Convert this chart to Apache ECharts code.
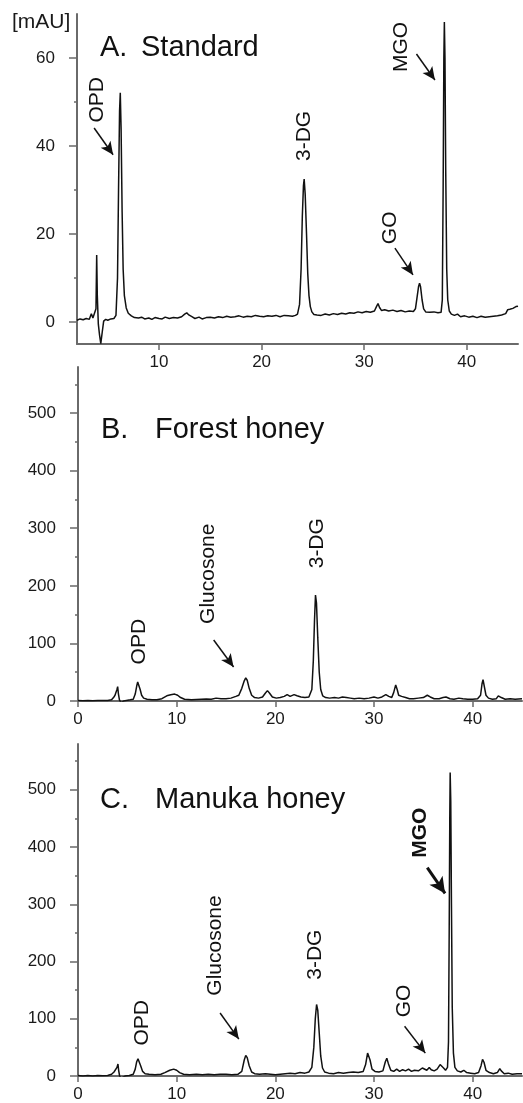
<!DOCTYPE html>
<html>
<head>
<meta charset="utf-8">
<script src="https://cdn.jsdelivr.net/npm/echarts@6/dist/echarts.min.js"></script>
<style>
html,body{margin:0;padding:0;background:#fff;}
#c{width:523px;height:1103px;}
</style>
</head>
<body>
<div id="c"></div>
<script>
// ---- data (retention time [min], absorbance [mAU]) ----
var standardTrace = [[2.0,0.4],[2.3,0.7],[2.6,0.5],[2.9,0.8],[3.2,0.6],[3.4,1.9],[3.55,0.9],[3.7,1.0],[3.85,3],[3.92,15.2],[3.98,6],[4.08,-0.5],[4.2,-3],[4.32,-4.9],[4.45,-2.5],[4.6,0.2],[4.8,0.6],[5.0,0.4],[5.3,0.7],[5.6,0.8],[5.8,1.5],[5.95,10],[6.05,30],[6.15,48],[6.22,52.1],[6.3,44],[6.4,25],[6.5,12],[6.62,6],[6.8,3.2],[7.0,2.0],[7.3,1.4],[7.6,1.0],[8.0,0.9],[8.3,1.1],[8.6,0.7],[9.0,0.9],[9.3,0.6],[9.6,1.0],[10.0,0.8],[10.3,0.7],[10.6,1.1],[11.0,0.8],[11.4,1.0],[11.8,0.9],[12.2,1.2],[12.5,1.8],[12.7,2.1],[12.9,1.6],[13.2,1.2],[13.5,0.8],[13.9,1.1],[14.2,0.7],[14.6,1.0],[15.0,1.1],[15.4,0.9],[15.8,1.2],[16.2,1.0],[16.6,1.3],[17.0,1.1],[17.4,1.2],[17.8,1.4],[18.2,1.1],[18.6,1.3],[19.0,1.2],[19.4,1.5],[19.8,1.3],[20.2,1.2],[20.6,1.4],[21.0,1.3],[21.4,1.5],[21.8,1.2],[22.2,1.5],[22.6,1.4],[23.0,1.3],[23.3,1.5],[23.5,1.8],[23.7,4],[23.85,12],[23.97,24],[24.08,31],[24.15,32.5],[24.25,29],[24.38,20],[24.5,11],[24.62,6],[24.75,3.5],[24.9,2.3],[25.1,1.7],[25.4,1.6],[25.8,1.5],[26.2,1.8],[26.6,1.6],[27.0,1.9],[27.4,1.7],[27.8,2.0],[28.2,1.8],[28.6,2.1],[29.0,2.0],[29.4,2.3],[29.8,2.1],[30.2,2.4],[30.6,2.2],[31.0,2.5],[31.2,3.5],[31.35,4.2],[31.5,3.3],[31.7,2.6],[32.0,2.8],[32.4,2.5],[32.8,2.7],[33.2,2.4],[33.6,2.6],[34.0,2.3],[34.4,2.5],[34.8,2.4],[35.0,3],[35.15,5.5],[35.3,8],[35.4,8.8],[35.5,8],[35.65,5],[35.8,3],[36.0,2.3],[36.4,2.2],[36.8,2.3],[37.2,2.1],[37.5,2.2],[37.62,5],[37.7,30],[37.77,60],[37.82,68.2],[37.88,60],[37.95,35],[38.05,12],[38.15,5],[38.3,2.5],[38.5,1.8],[38.8,1.5],[39.1,1.8],[39.4,1.2],[39.8,1.4],[40.2,1.1],[40.6,1.3],[41.0,1.0],[41.4,1.3],[41.8,1.1],[42.2,1.2],[42.6,1.3],[43.0,1.4],[43.4,1.6],[43.8,1.9],[44.0,2.8],[44.2,2.9],[44.5,3.1],[44.8,3.5],[45.0,3.6]];

var forestTrace = [[0,1],[0.5,0.5],[1,1],[1.5,0.5],[2,1],[2.5,0.8],[3,1],[3.4,2],[3.6,6],[3.75,10],[3.85,9],[3.95,20],[4.02,25],[4.1,12],[4.2,2],[4.35,-3],[4.5,-4],[4.65,0],[4.9,1],[5.3,2],[5.6,3],[5.8,12],[5.95,26],[6.05,33],[6.15,30],[6.3,20],[6.45,10],[6.65,5],[7,3],[7.5,2],[8,2],[8.5,4],[9,9],[9.4,11],[9.8,12],[10.1,10],[10.4,6],[10.8,3],[11.5,2],[12,2.5],[12.5,3],[13,3.5],[13.5,3],[14,5],[14.5,4],[15,4],[15.5,5],[16,8],[16.3,10],[16.6,22],[16.85,35],[17.0,40],[17.15,36],[17.35,22],[17.6,10],[17.9,6],[18.3,5],[18.7,7],[19.0,14],[19.2,18],[19.4,14],[19.7,7],[20.1,5],[20.5,6],[20.9,8],[21.2,11],[21.5,8],[21.9,11],[22.2,9],[22.6,7],[23.0,6],[23.4,7],[23.7,20],[23.85,70],[23.97,140],[24.07,184],[24.17,170],[24.3,110],[24.45,50],[24.6,20],[24.8,9],[25.1,6],[25.5,5],[26,6],[26.4,5],[26.8,7],[27.2,6],[27.6,5],[28,4],[28.5,5],[29,4],[29.5,5],[30,7],[30.4,5],[30.8,7],[31.2,11],[31.5,8],[31.8,6],[32.0,15],[32.2,28],[32.35,20],[32.5,10],[32.8,8],[33.2,6],[33.6,4],[34,4],[34.5,5],[35,6],[35.4,10],[35.7,7],[36.1,4],[36.6,4],[37,6],[37.3,7],[37.7,4],[38.1,3],[38.6,5],[39,4],[39.5,3],[40,3],[40.5,4],[40.8,10],[40.95,30],[41.05,37],[41.15,28],[41.35,10],[41.6,5],[42,3],[42.4,4],[42.6,9],[42.75,12],[42.9,6],[43.3,3],[43.8,4],[44.3,3],[45,4]];

var manukaTrace = [[0,1],[0.5,0],[1,1],[1.5,0],[2,1],[2.5,0.5],[3,1],[3.4,3],[3.65,7],[3.8,5],[3.95,15],[4.05,21],[4.12,10],[4.22,0],[4.35,-4],[4.55,-2],[4.8,0],[5.2,1],[5.6,3],[5.8,12],[5.95,25],[6.08,30],[6.2,27],[6.35,18],[6.55,8],[6.8,4],[7.2,3],[7.8,2],[8.4,3],[8.8,6],[9.3,10],[9.7,12],[10.0,10],[10.3,6],[10.7,3],[11.3,2],[12,3],[12.6,2],[13.2,3],[13.8,2],[14.4,3],[15,3],[15.6,2],[16.2,3],[16.6,8],[16.85,28],[17.0,36],[17.15,32],[17.35,18],[17.6,7],[17.9,4],[18.4,3],[19,4],[19.5,3],[20,2],[20.5,3],[21,4],[21.5,5],[22,4],[22.5,6],[23,5],[23.4,7],[23.7,15],[23.9,50],[24.05,100],[24.18,125],[24.3,115],[24.45,75],[24.6,35],[24.78,14],[25.0,7],[25.4,5],[25.9,4],[26.4,6],[26.9,5],[27.4,6],[27.9,7],[28.4,6],[28.9,8],[29.15,20],[29.35,40],[29.45,42],[29.6,28],[29.8,12],[30.1,8],[30.5,7],[30.9,9],[31.15,25],[31.3,31],[31.45,22],[31.7,10],[32,8],[32.3,12],[32.6,8],[32.9,11],[33.2,9],[33.5,12],[33.8,8],[34.1,10],[34.5,9],[34.9,14],[35.1,15],[35.35,10],[35.6,15],[35.8,11],[36.1,9],[36.4,12],[36.7,20],[36.85,22],[37.05,14],[37.25,10],[37.45,15],[37.55,60],[37.62,250],[37.68,450],[37.72,530],[37.78,480],[37.85,300],[37.93,120],[38.05,40],[38.2,15],[38.45,9],[38.8,7],[39.1,10],[39.4,6],[39.8,5],[40.2,4],[40.6,6],[40.85,18],[41.0,29],[41.15,24],[41.35,10],[41.7,6],[42.1,4],[42.5,6],[42.75,13],[42.9,9],[43.2,4],[43.6,5],[44,3],[44.5,4],[45,4]];

// tick values
var xTicksA = [10, 20, 30, 40];
var xTicksBC = [0, 10, 20, 30, 40];
var yTicksA = [0, 20, 40, 60];
var yMinorA = [10, 30, 50];
var yTicksBC = [0, 100, 200, 300, 400, 500];
var yMinorBC = [50, 150, 250, 350, 450, 550];

// panel titles
var panelLetters = ['A.', 'B.', 'C.'];
var panelNames = ['Standard', 'Forest honey', 'Manuka honey'];
var yUnit = '[mAU]';

// peak annotations: [label, labelX, labelY] in data units
var labelsA = [['OPD', 3.96, 50.5], ['3-DG', 24.13, 42.3], ['GO', 32.5, 21.4], ['MGO', 33.6, 62.5]];
var labelsB = [['OPD', 6.17, 103], ['Glucosone', 13.15, 221], ['3-DG', 24.27, 274]];
var labelsC = [['OPD', 6.48, 93], ['Glucosone', 13.9, 228], ['3-DG', 24.0, 212], ['GO', 33.1, 131]];
var labelsCBold = [['MGO', 34.65, 425]];
// arrows: [x1, y1, x2, y2] in data units
var arrowsA = [[3.67, 44.1, 5.52, 38.0], [33.0, 16.8, 34.76, 10.7], [35.1, 60.9, 36.9, 55.0]];
var arrowsB = [[13.75, 106, 15.77, 59]];
var arrowsC = [[14.4, 110, 16.3, 64.5], [33.1, 87, 35.2, 40]];
var arrowsCBold = [[35.4, 364, 37.2, 319]];

var FONT = "'Liberation Sans', Arial, sans-serif";
var AXC = '#6a6a6a';

function mkX(grid, min, ticks) {
  return {
    type: 'value', gridIndex: grid, min: min, max: 45,
    axisLine: {onZero: false, lineStyle: {color: AXC, width: 2}},
    axisTick: {customValues: ticks, length: 6, lineStyle: {color: AXC, width: 1.5}},
    axisLabel: {customValues: ticks, fontSize: 17, color: '#1a1a1a', fontFamily: FONT, margin: 10},
    splitLine: {show: false}
  };
}
function mkY(grid, min, max, ticks) {
  return {
    type: 'value', gridIndex: grid, min: min, max: max, position: 'left',
    axisLine: {show: true, onZero: false, lineStyle: {color: AXC, width: 2}},
    axisTick: {show: true, customValues: ticks, length: 8, lineStyle: {color: AXC, width: 1.5}},
    axisLabel: {customValues: ticks, fontSize: 17, color: '#1a1a1a', fontFamily: FONT, margin: 22},
    splitLine: {show: false}
  };
}
function mkYMinor(grid, min, max, ticks) {
  return {
    type: 'value', gridIndex: grid, min: min, max: max, position: 'left',
    axisLine: {show: false, onZero: false},
    axisTick: {show: true, customValues: ticks, length: 3, lineStyle: {color: AXC, width: 1.5}},
    axisLabel: {show: false},
    splitLine: {show: false}
  };
}
function markPts(list, bold) {
  return list.map(function (d) {
    return {name: d[0], coord: [d[1], d[2]],
      label: {fontWeight: bold ? 'bold' : 'normal'}};
  });
}
function markArrows(list, w, head) {
  return list.map(function (d) {
    return [
      {coord: [d[0], d[1]], symbol: 'none', lineStyle: {width: w, color: '#111'}},
      {coord: [d[2], d[3]], symbol: 'arrow', symbolSize: head}
    ];
  });
}
function mkSeries(idx, data, labels, arrows, boldLabels, boldArrows) {
  var pts = markPts(labels, false).concat(markPts(boldLabels || [], true));
  var arr = markArrows(arrows, 1.5, [9, 13]).concat(markArrows(boldArrows || [], 3, [12, 16]));
  return {
    type: 'line', xAxisIndex: idx, yAxisIndex: idx, data: data,
    showSymbol: false, symbol: 'none', smooth: false, animation: false,
    lineStyle: {color: '#111', width: 1.5},
    markPoint: {
      symbol: 'rect', symbolSize: 1, silent: true, animation: false,
      itemStyle: {color: 'rgba(0,0,0,0)'},
      label: {show: true, position: 'inside', rotate: 90, formatter: '{b}',
        color: '#111', fontSize: 21, fontFamily: FONT},
      data: pts
    },
    markLine: {
      silent: true, animation: false, symbol: ['none', 'arrow'], symbolSize: 12,
      label: {show: false},
      itemStyle: {color: '#111'},
      lineStyle: {color: '#111', type: 'solid', width: 1.5},
      emphasis: {disabled: true},
      data: arr
    }
  };
}

var titleTops = [33, 415, 785];
var letterLefts = [100, 101, 100];
var nameLefts = [141, 155, 155];
var graphics = [];
for (var i = 0; i < 3; i++) {
  graphics.push({type: 'text', left: letterLefts[i], top: titleTops[i],
    style: {text: panelLetters[i], font: '29px ' + FONT, fill: '#111'}});
  graphics.push({type: 'text', left: nameLefts[i], top: titleTops[i],
    style: {text: panelNames[i], font: '29px ' + FONT, fill: '#111'}});
}
graphics.push({type: 'text', left: 12, top: 12,
  style: {text: yUnit, font: '21px ' + FONT, fill: '#1a1a1a'}});

var chart = echarts.init(document.getElementById('c'), null, {renderer: 'canvas'});
chart.setOption({
  animation: false,
  backgroundColor: '#fff',
  grid: [
    {left: 77, top: 14, width: 441, height: 330},
    {left: 78, top: 367, width: 444, height: 334},
    {left: 78, top: 744, width: 444, height: 333}
  ],
  xAxis: [mkX(0, 2, xTicksA), mkX(1, 0, xTicksBC), mkX(2, 0, xTicksBC)],
  yAxis: [
    mkY(0, -5, 70, yTicksA), mkY(1, 0, 580, yTicksBC), mkY(2, 0, 580, yTicksBC),
    mkYMinor(0, -5, 70, yMinorA), mkYMinor(1, 0, 580, yMinorBC), mkYMinor(2, 0, 580, yMinorBC)
  ],
  series: [
    mkSeries(0, standardTrace, labelsA, arrowsA),
    mkSeries(1, forestTrace, labelsB, arrowsB),
    mkSeries(2, manukaTrace, labelsC, arrowsC, labelsCBold, arrowsCBold)
  ],
  graphic: graphics
});
</script>
</body>
</html>
